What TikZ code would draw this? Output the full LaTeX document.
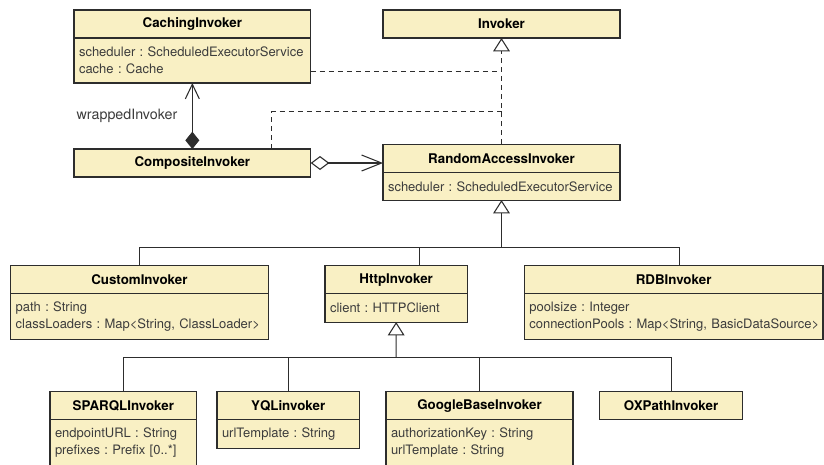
\documentclass[tikz,border=0pt]{standalone}
\usepackage{fontspec}
\setmainfont{TeX Gyre Heros}
\usetikzlibrary{arrows.meta,positioning,calc}

\definecolor{clsfill}{RGB}{249,240,196}
\definecolor{clsline}{RGB}{45,45,45}
\definecolor{attrtext}{RGB}{60,60,60}

\newcommand\attrfont{\fontsize{9.75}{12.75}\selectfont\frenchspacing\hyphenpenalty=10000\relax}

\tikzset{
  cls/.style={draw=clsline, fill=clsfill, line width=0.8pt, anchor=north west,
    inner sep=0pt, outer sep=0pt, minimum height=21pt,
    font=\bfseries\fontsize{10}{12}\selectfont, text=black},
  attrs/.style={draw=clsline, fill=clsfill, line width=0.8pt, anchor=north,
    inner xsep=3.75pt, inner ysep=0pt, outer sep=0pt, align=left,
    font=\attrfont, text=attrtext},
  link/.style={draw=clsline, line width=0.8pt},
  realize/.style={link, dash pattern=on 3.8pt off 3pt},
  gen/.style={link, {Triangle[open, length=10pt, width=12.5pt, line width=0.8pt]}-},
  rolelabel/.style={font=\fontsize{10.7}{12}\selectfont, text=attrtext}
}

\begin{document}
\begin{tikzpicture}[x=0.75pt, y=-0.75pt]
  \useasboundingbox (0,0) rectangle (824,464);
  \fill[white] (0,0) rectangle (824,464);
  \clip (0,0) rectangle (824,464);

  % top row
  \node[cls, minimum width=177.5pt] (cach) at (74,10) {CachingInvoker};
  \node[attrs, text width=170pt, minimum height=33.75pt] (cach-a) at (cach.south)
    {scheduler : ScheduledExecutorService\\cache : Cache};
  \node[cls, minimum width=177.75pt] (inv) at (383,10) {Invoker};

  % middle row
  \node[cls, minimum width=177.5pt] (comp) at (74,149) {CompositeInvoker};
  \node[cls, minimum width=177.75pt, minimum height=21.3pt] (rai) at (383,144.3) {RandomAccessInvoker};
  \node[attrs, text width=170.25pt, minimum height=20.5pt] (rai-a) at (rai.south)
    {scheduler : ScheduledExecutorService};

  % invoker implementations
  \node[cls, minimum width=193pt] (cust) at (10.7,265.7) {CustomInvoker};
  \node[attrs, text width=185.5pt, minimum height=34pt] (cust-a) at (cust.south)
    {path : String\\classLoaders : Map<String, ClassLoader>};
  \node[cls, minimum width=106.75pt] (http) at (325,265.7) {HttpInvoker};
  \node[attrs, text width=99.25pt, minimum height=21.25pt] (http-a) at (http.south)
    {client : HTTPClient};
  \node[cls, minimum width=224pt] (rdb) at (524.3,265.7) {RDBInvoker};
  \node[attrs, text width=216.5pt, minimum height=34pt] (rdb-a) at (rdb.south)
    {poolsize : Integer\\\mbox{connectionPools : Map<String, BasicDataSource>}};

  % http based invokers
  \node[cls, minimum width=110pt] (sparql) at (50,391.7) {SPARQLInvoker};
  \node[attrs, text width=102.5pt, minimum height=34.5pt] (sparql-a) at (sparql.south)
    {endpointURL : String\\prefixes : Prefix [0..*]};
  \node[cls, minimum width=106.75pt] (yql) at (217,391.7) {YQLinvoker};
  \node[attrs, text width=99.25pt, minimum height=21.25pt] (yql-a) at (yql.south)
    {urlTemplate : String};
  \node[cls, minimum width=140.25pt] (gbase) at (386,391.7) {GoogleBaseInvoker};
  \node[attrs, text width=132.75pt, minimum height=34.5pt] (gbase-a) at (gbase.south)
    {authorizationKey : String\\urlTemplate : String};
  \node[cls, minimum width=107pt] (oxp) at (599.7,391.7) {OXPathInvoker};

  % realizations of Invoker
  \draw[realize, -{Triangle[open, length=10pt, width=12.5pt, line width=0.8pt]}] (rai.north) -- (inv.south);
  \coordinate (cj) at ([yshift=-7.9pt]cach-a.east);
  \draw[realize] (cj) -- (cj -| inv.south);
  \coordinate (cpj) at (501.5,111.7);
  \draw[realize] ([xshift=-29.25pt]comp.north east) |- (cpj);

  % associations
  \draw[link, {Diamond[length=13pt, width=10.5pt]}-{Straight Barb[length=11pt, width=10.5pt, line width=0.8pt]}]
    (comp.north) -- node[rolelabel, midway, left=7.5pt] (wrap) {wrappedInvoker} (cach-a.south);
  \draw[link, {Diamond[open, length=14pt, width=10.5pt, line width=0.8pt]}-{Straight Barb[length=15pt, width=12pt, line width=0.8pt]}]
    (comp.east) -- (comp.east -| rai.west);

  % generalizations
  \coordinate (gbus) at (501.5,247.3);
  \draw[gen] (rai-a.south) -- (gbus);
  \draw[link] (gbus) -| (cust.north);
  \draw[link] (gbus) -| ([xshift=17.5pt]http.north);
  \draw[link] (gbus) -| ([xshift=4.7pt]rdb.north);

  \coordinate (hbus) at (396.15,357.3);
  \draw[gen] (http-a.south) -- (hbus);
  \foreach \c in {sparql,yql,gbase,oxp}
    \draw[link] (hbus) -| (\c.north);
\end{tikzpicture}
\end{document}
